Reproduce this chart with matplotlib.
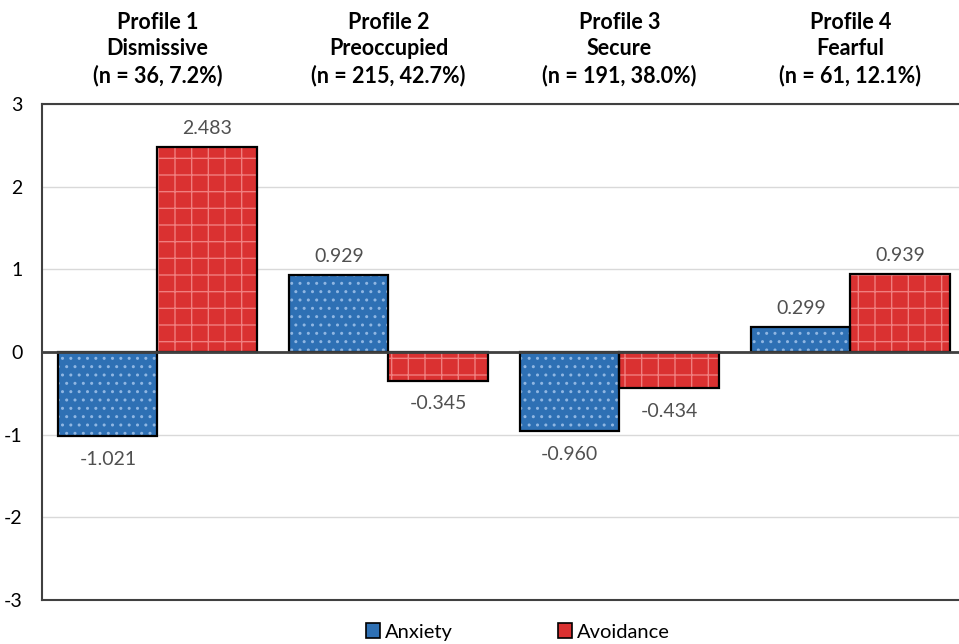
import numpy as np
import matplotlib
matplotlib.use("Agg")
import matplotlib.pyplot as plt

plt.rcParams['font.family'] = ['Lato', 'DejaVu Sans']
plt.rcParams['hatch.linewidth'] = 1.0

# data
profiles = ["Profile 1\nDismissive\n(n = 36, 7.2%)",
            "Profile 2\nPreoccupied\n(n = 215, 42.7%)",
            "Profile 3\nSecure\n(n = 191, 38.0%)",
            "Profile 4\nFearful\n(n = 61, 12.1%)"]
anxiety = [-1.021, 0.929, -0.960, 0.299]
avoidance = [2.483, -0.345, -0.434, 0.939]
yticks = [-3, -2, -1, 0, 1, 2, 3]

blue = "#2E70B4"
red = "#DA3131"
x = np.arange(len(profiles))
w = 0.43

fig = plt.figure(figsize=(9.59, 6.44), dpi=100)
ax = fig.add_axes([42/959, 1 - 600/644, 1 - 42/959, (600 - 104)/644])

def hatched(xs, vals, face, hcol, hatch, label):
    ax.bar(xs, vals, w, color=face, edgecolor=hcol, hatch=hatch, linewidth=0, zorder=3)
    ax.bar(xs, vals, w, fill=False, edgecolor="black", linewidth=1.6, zorder=4)
    return ax.bar([0], [0], 0, color=face, edgecolor="black", linewidth=1.2,
                  label=label)

h1 = hatched(x - w/2, anxiety, blue, "#8FB6E2", "..", "Anxiety")
h2 = hatched(x + w/2, avoidance, red, "#F07E7E", "+", "Avoidance")

for xs, vals in ((x - w/2, anxiety), (x + w/2, avoidance)):
    for xi, v in zip(xs, vals):
        off = 0.12 if v > 0 else -0.18
        ax.text(xi, v + off, f"{v:.3f}", ha="center", va="bottom" if v > 0 else "top",
                fontsize=14, color="#505050", zorder=5)

ax.set_xlim(-0.5, 3.47)
ax.set_ylim(-3, 3)
ax.set_yticks(yticks)
ax.set_yticklabels([str(t) for t in yticks], fontsize=14)
ax.tick_params(axis="y", length=0, pad=14)
ax.set_xticks([])
ax.grid(axis="y", color="#D9D9D9", linewidth=1, zorder=0)
ax.axhline(0, color="#404040", linewidth=2, zorder=5)
for s in ("top", "bottom", "left"):
    ax.spines[s].set_color("#404040")
    ax.spines[s].set_linewidth(1.5)
ax.spines["right"].set_visible(False)

for xi, p in zip(x, profiles):
    ax.text(xi, 1.0 + 18/496, p, transform=ax.get_xaxis_transform(), ha="center",
            va="bottom", fontsize=15.5, fontweight="bold", linespacing=1.3)

leg = fig.legend(handles=[h1, h2], loc="center", bbox_to_anchor=(518/959, 1 - 632/644),
                 ncol=2, frameon=False, fontsize=14.5, handlelength=0.7, handleheight=0.7,
                 handletextpad=0.25, columnspacing=5.2, borderaxespad=0)

fig.savefig("out.png", dpi=100)
